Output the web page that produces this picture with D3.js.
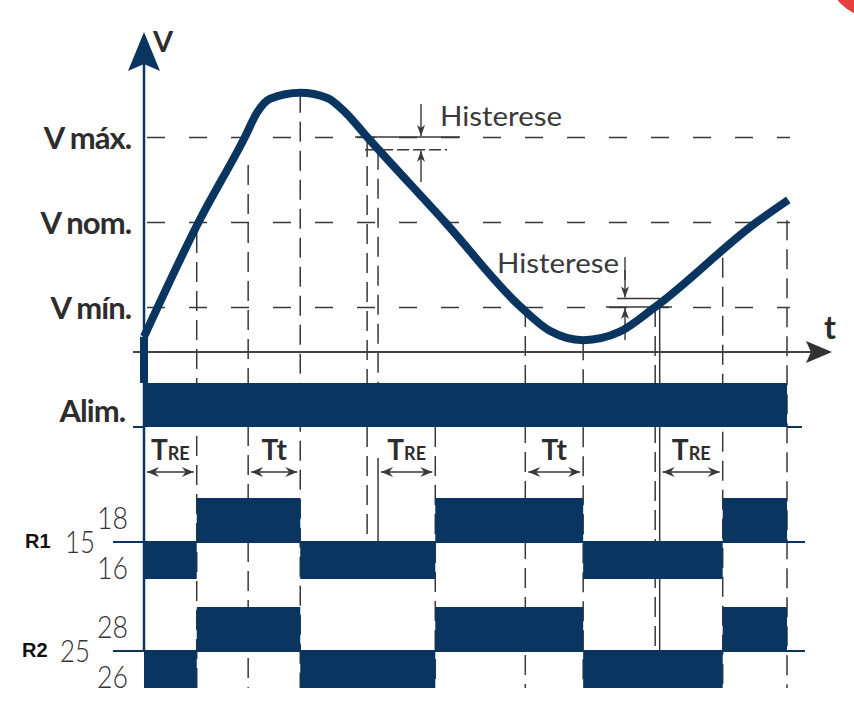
<!DOCTYPE html>
<html>
<head>
<meta charset="utf-8">
<script src="https://cdn.jsdelivr.net/npm/d3@7"></script>
<style>
  body { margin: 0; background: #fff; }
  svg { display: block; }
</style>
</head>
<body>
<div id="chart"></div>
<script>
// time in arbitrary units (0 = power on, 100 = end of diagram)
// voltage relative to the thresholds: V mín. = -1, V nom. = 0, V máx. = 1
const levelValues = [1, 0, -1];
const levelLabels = ["V máx.", "V nom.", "V mín."];
const hystHigh = 0.85, hystLow = -0.9;

const curveT = [0, 8.5, 15.7, 17.6, 19.6, 24.3, 28.5, 31.3, 34.7, 46.8, 58.6, 63.1, 68.3, 74.0, 79.5, 95.3, 100.2];
const curveV = [-1.35, 0, 1.0, 1.29, 1.45, 1.52, 1.46, 1.29, 1.0, 0, -1.0, -1.28, -1.39, -1.29, -1.0, 0, 0.26];

// relay contact state: 1 = 18 / 28 closed, 0 = 16 / 26 closed
const relayStart = [0, 8.2, 24.3, 45.3, 68.3, 90];
const relayEnd   = [8.2, 24.3, 45.3, 68.3, 90, 100];
const relayState = [0, 1, 0, 1, 0, 1];
const relayNames  = ["R1", "R2"];
const relayCommon = ["15", "25"];
const relayNO     = ["18", "28"];
const relayNC     = ["16", "26"];

// dashed guide lines: time, voltage where they start (null = below Alim.), row where they end
const guideT   = [8.2, 16.2, 24.3, 34.7, 36.4, 45.3, 59.3, 68.3, 79.5, 90, 100];
const guideTop = [-0.13, 0.67, 1.52, 1.0, hystHigh, null, -1.0, -1.39, -1.0, -0.42, 0.02];
const guideEnd = ["r2", "r2", "r2", "r1", "alim", "r2", "r2", "r2", "r2", "r2", "r2"];

// timing intervals
const spanStart = [0, 16.2, 36.4, 59.3, 80.2];
const spanEnd   = [8.2, 24.3, 45.3, 68.3, 90];
const spanLabel = ["TRE", "Tt", "TRE", "Tt", "TRE"];

const width = 854, height = 711;
const navy = "#0b3561", ink = "#2d2d2d", lineGray = "#383838";

const svg = d3.select("#chart").append("svg")
  .attr("width", width)
  .attr("height", height);

const x = d3.scaleLinear().domain([0, 100]).range([144, 787]);
const y = d3.scaleLinear().domain([-1, 1]).range([307, 137]);

const tAxisY = 352;
const alimTop = 383, alimBottom = 427;
const rowBase = { r1: 542, r2: 651 };
const upH = 44, downH = 37;
const rowBottom = { alim: alimTop, r1: rowBase.r1, r2: rowBase.r2 + downH };

// badge in the corner
svg.append("circle")
  .attr("cx", 875).attr("cy", -30).attr("r", 48)
  .attr("fill", "#e5403d");

// vertical guides
guideT.forEach((t, i) => {
  const top = guideTop[i] === null ? alimBottom : y(guideTop[i]);
  svg.append("line")
    .attr("x1", x(t)).attr("x2", x(t))
    .attr("y1", top).attr("y2", rowBottom[guideEnd[i]])
    .attr("stroke", lineGray)
    .attr("stroke-width", 1.5)
    .attr("stroke-dasharray", "20,9");
});

// solid guides where the hysteresis thresholds are crossed
svg.append("line")
  .attr("x1", x(36.4)).attr("x2", x(36.4))
  .attr("y1", 458).attr("y2", rowBase.r1)
  .attr("stroke", lineGray).attr("stroke-width", 1.5);
svg.append("line")
  .attr("x1", x(80.2)).attr("x2", x(80.2))
  .attr("y1", y(hystLow)).attr("y2", rowBase.r2)
  .attr("stroke", lineGray).attr("stroke-width", 1.5);

// level grid + labels
const levelAxis = d3.axisLeft(y)
  .tickValues(levelValues)
  .tickFormat((d, i) => levelLabels[i])
  .tickSize(-(x(100) - x(0) + 3))
  .tickPadding(13);

svg.append("g")
  .attr("transform", `translate(${x(0)},0)`)
  .call(levelAxis)
  .call(g => g.select(".domain").remove())
  .call(g => g.selectAll(".tick line")
    .attr("stroke", lineGray)
    .attr("stroke-width", 1.6)
    .attr("stroke-dasharray", "18,24")
    .attr("stroke-dashoffset", -3))
  .call(g => g.selectAll(".tick text")
    .attr("font-family", "Lato, 'DejaVu Sans', sans-serif")
    .attr("font-size", 31)
    .attr("font-weight", 700)
    .attr("letter-spacing", -1)
    .attr("dy", "0.38em")
    .attr("fill", ink));

// time axis
svg.append("line")
  .attr("x1", 133).attr("x2", 812)
  .attr("y1", tAxisY).attr("y2", tAxisY)
  .attr("stroke", "#444").attr("stroke-width", 2);
svg.append("path")
  .attr("d", `M806,341 L832,${tAxisY} L806,363 L811,${tAxisY} Z`)
  .attr("fill", "#333");
svg.append("text")
  .attr("x", 824).attr("y", 339)
  .attr("font-family", "Lato, sans-serif").attr("font-size", 32).attr("font-weight", 700)
  .attr("fill", ink).text("t");

// voltage axis
svg.append("line")
  .attr("x1", x(0)).attr("x2", x(0))
  .attr("y1", 60).attr("y2", 650)
  .attr("stroke", navy).attr("stroke-width", 2.5);
svg.append("path")
  .attr("d", `M${x(0)},32 L160,71 L${x(0)},64 L128,71 Z`)
  .attr("fill", navy);
svg.append("text")
  .attr("x", 153).attr("y", 52)
  .attr("font-family", "Lato, sans-serif").attr("font-size", 29).attr("font-weight", 700)
  .attr("fill", ink).text("V");

// hysteresis marks
function vArrow(ax, y0, y1) {
  svg.append("line")
    .attr("x1", ax).attr("x2", ax).attr("y1", y0).attr("y2", y1)
    .attr("stroke", lineGray).attr("stroke-width", 1.4);
  const s = y1 > y0 ? 1 : -1;
  svg.append("path")
    .attr("d", `M${ax},${y1} L${ax - 4},${y1 - s * 11} L${ax},${y1 - s * 8} L${ax + 4},${y1 - s * 11} Z`)
    .attr("fill", lineGray);
}

svg.append("line")
  .attr("x1", 355).attr("x2", 460).attr("y1", y(1)).attr("y2", y(1))
  .attr("stroke", lineGray).attr("stroke-width", 1.5);
svg.append("line")
  .attr("x1", 365).attr("x2", 447).attr("y1", y(hystHigh)).attr("y2", y(hystHigh))
  .attr("stroke", lineGray).attr("stroke-width", 1.3).attr("stroke-dasharray", "12,4");
vArrow(421, 104, y(1) - 1);
vArrow(421, 182, y(hystHigh) + 1);

svg.append("line")
  .attr("x1", 617).attr("x2", 660).attr("y1", y(hystLow)).attr("y2", y(hystLow))
  .attr("stroke", lineGray).attr("stroke-width", 1.5);
svg.append("line")
  .attr("x1", 606).attr("x2", 672).attr("y1", y(-1)).attr("y2", y(-1))
  .attr("stroke", lineGray).attr("stroke-width", 1.5);
svg.append("line")
  .attr("x1", 625).attr("x2", 625).attr("y1", 257).attr("y2", 280)
  .attr("stroke", lineGray).attr("stroke-width", 1.4);
vArrow(625, 270, y(hystLow) - 1);
vArrow(625, 340, y(-1) + 1);

const hystStyle = sel => sel
  .attr("font-family", "Lato, sans-serif")
  .attr("font-size", 27)
  .attr("font-weight", 400)
  .attr("textLength", 122)
  .attr("lengthAdjust", "spacingAndGlyphs")
  .attr("fill", "#3a3a3a");
svg.append("text").attr("x", 440).attr("y", 126).call(hystStyle).text("Histerese");
svg.append("text").attr("x", 497).attr("y", 273).call(hystStyle).text("Histerese");

// voltage curve
const pts = curveT.map((t, i) => [t, curveV[i]]);
svg.append("line")
  .attr("x1", x(curveT[0])).attr("x2", x(curveT[0]))
  .attr("y1", alimTop).attr("y2", y(curveV[0]))
  .attr("stroke", navy).attr("stroke-width", 8);
svg.append("path")
  .datum(pts)
  .attr("d", d3.line().x(d => x(d[0])).y(d => y(d[1])).curve(d3.curveMonotoneX))
  .attr("fill", "none")
  .attr("stroke", navy)
  .attr("stroke-width", 8)
  .attr("stroke-linejoin", "round");

// supply bar
svg.append("rect")
  .attr("x", x(0)).attr("y", alimTop)
  .attr("width", x(100) - x(0)).attr("height", alimBottom - alimTop)
  .attr("fill", navy);
svg.append("line").attr("x1", 133).attr("x2", x(0)).attr("y1", alimBottom).attr("y2", alimBottom)
  .attr("stroke", navy).attr("stroke-width", 2);
svg.append("line").attr("x1", x(100)).attr("x2", 802).attr("y1", alimBottom).attr("y2", alimBottom)
  .attr("stroke", navy).attr("stroke-width", 2);
svg.append("text")
  .attr("x", 125).attr("y", 422).attr("text-anchor", "end")
  .attr("font-family", "Lato, sans-serif").attr("font-size", 31).attr("font-weight", 700)
  .attr("letter-spacing", -1)
  .attr("fill", ink).text("Alim.");

// timing spans
function hArrowHead(tipX, ay, dir) {
  svg.append("path")
    .attr("d", `M${tipX},${ay} L${tipX + dir * 12},${ay - 5} L${tipX + dir * 8},${ay} L${tipX + dir * 12},${ay + 5} Z`)
    .attr("fill", lineGray);
}
const spanY = 472;
spanStart.forEach((t0, i) => {
  const x0 = x(t0) + 3, x1 = x(spanEnd[i]) - 3;
  svg.append("line").attr("x1", x0).attr("x2", x1).attr("y1", spanY).attr("y2", spanY)
    .attr("stroke", lineGray).attr("stroke-width", 1.6);
  hArrowHead(x0, spanY, 1);
  hArrowHead(x1, spanY, -1);
  const label = svg.append("text")
    .attr("x", (x0 + x1) / 2).attr("y", 460)
    .attr("text-anchor", "middle")
    .attr("font-family", "Lato, sans-serif").attr("font-weight", 700)
    .attr("fill", ink);
  label.append("tspan").attr("font-size", 28).text(spanLabel[i][0]);
  const rest = spanLabel[i].slice(1);
  label.append("tspan").attr("font-size", rest === rest.toUpperCase() ? 18 : 28).text(rest);
});

// relay rows
relayNames.forEach((name, r) => {
  const base = rowBase[`r${r + 1}`];
  svg.append("line")
    .attr("x1", 113).attr("x2", 805).attr("y1", base).attr("y2", base)
    .attr("stroke", navy).attr("stroke-width", 2);
  relayStart.forEach((t0, i) => {
    svg.append("rect")
      .attr("x", x(t0)).attr("width", x(relayEnd[i]) - x(t0))
      .attr("y", relayState[i] ? base - upH : base)
      .attr("height", relayState[i] ? upH : downH)
      .attr("fill", navy);
  });
  svg.append("text")
    .attr("x", r === 0 ? 25 : 22).attr("y", base + 6)
    .attr("font-family", "'Liberation Sans', Arial, sans-serif").attr("font-size", 20).attr("font-weight", 700)
    .attr("fill", "#111").text(name);
  const numStyle = sel => sel
    .attr("font-family", "Lato, sans-serif").attr("font-size", 31).attr("font-weight", 300)
    .attr("fill", "#333");
  svg.append("text").attr("x", r === 0 ? 65 : 60).attr("y", base + 11)
    .attr("textLength", 30).attr("lengthAdjust", "spacingAndGlyphs")
    .call(numStyle).text(relayCommon[r]);
  svg.append("text").attr("x", 97).attr("y", base - 13)
    .attr("textLength", 31).attr("lengthAdjust", "spacingAndGlyphs")
    .call(numStyle).text(relayNO[r]);
  svg.append("text").attr("x", 97).attr("y", base + 37)
    .attr("textLength", 31).attr("lengthAdjust", "spacingAndGlyphs")
    .call(numStyle).text(relayNC[r]);
});
</script>
</body>
</html>
